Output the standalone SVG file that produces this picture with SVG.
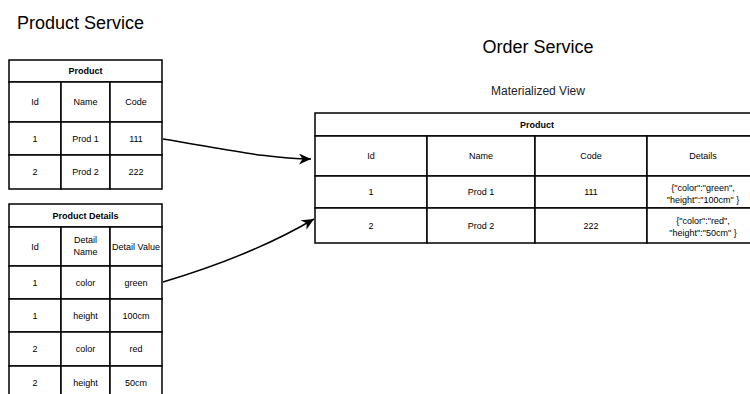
<svg xmlns="http://www.w3.org/2000/svg" width="750" height="394" viewBox="0 0 750 394">
<defs>
<style>
text{font-family:"Liberation Sans",Arial,sans-serif;fill:#000;text-anchor:middle}
.cell{fill:#fff;stroke:#000;stroke-width:1.5}
.t{font-size:9px}
.b{font-size:9px;font-weight:bold}
.h{font-size:18px}
.conn{fill:none;stroke:#000;stroke-width:1.5}
</style>
<marker id="arr" markerUnits="userSpaceOnUse" markerWidth="16" markerHeight="14" refX="12" refY="5.5" orient="auto">
<path d="M0,0 L12,5.5 L0,11 L3.5,5.5 z" fill="#000"/>
</marker>
</defs>
<rect width="750" height="394" fill="#fff"/>
<g id="title-product-service"><text class="h" x="17" y="29" style="text-anchor:start">Product Service</text></g>
<g id="title-order-service"><text class="h" x="538" y="53">Order Service</text></g>
<g id="label-materialized-view"><text x="538" y="95" style="font-size:12px;fill:#222">Materialized View</text></g>

<g id="product-table">
<rect class="cell" x="9" y="60" width="153" height="22"/>
<rect class="cell" x="9" y="82" width="52" height="40"/>
<rect class="cell" x="61" y="82" width="49" height="40"/>
<rect class="cell" x="110" y="82" width="52" height="40"/>
<rect class="cell" x="9" y="122" width="52" height="33"/>
<rect class="cell" x="61" y="122" width="49" height="33"/>
<rect class="cell" x="110" y="122" width="52" height="33"/>
<rect class="cell" x="9" y="155" width="52" height="34"/>
<rect class="cell" x="61" y="155" width="49" height="34"/>
<rect class="cell" x="110" y="155" width="52" height="34"/>
<text class="b" x="85.5" y="74">Product</text>
<text class="t" x="35" y="105">Id</text>
<text class="t" x="85.5" y="105">Name</text>
<text class="t" x="136" y="105">Code</text>
<text class="t" x="35" y="142">1</text>
<text class="t" x="85.5" y="142">Prod 1</text>
<text class="t" x="136" y="142">111</text>
<text class="t" x="35" y="175">2</text>
<text class="t" x="85.5" y="175">Prod 2</text>
<text class="t" x="136" y="175">222</text>
</g>

<g id="product-details-table">
<rect class="cell" x="9" y="204" width="153" height="23"/>
<rect class="cell" x="9" y="227" width="52" height="39"/>
<rect class="cell" x="61" y="227" width="49" height="39"/>
<rect class="cell" x="110" y="227" width="52" height="39"/>
<rect class="cell" x="9" y="266" width="52" height="33"/>
<rect class="cell" x="61" y="266" width="49" height="33"/>
<rect class="cell" x="110" y="266" width="52" height="33"/>
<rect class="cell" x="9" y="299" width="52" height="33"/>
<rect class="cell" x="61" y="299" width="49" height="33"/>
<rect class="cell" x="110" y="299" width="52" height="33"/>
<rect class="cell" x="9" y="332" width="52" height="34"/>
<rect class="cell" x="61" y="332" width="49" height="34"/>
<rect class="cell" x="110" y="332" width="52" height="34"/>
<rect class="cell" x="9" y="366" width="52" height="34"/>
<rect class="cell" x="61" y="366" width="49" height="34"/>
<rect class="cell" x="110" y="366" width="52" height="34"/>
<text class="b" x="85.5" y="218.5">Product Details</text>
<text class="t" x="35" y="249.5">Id</text>
<text class="t" x="85.5" y="243">Detail</text>
<text class="t" x="85.5" y="255">Name</text>
<text class="t" x="136" y="249.5">Detail Value</text>
<text class="t" x="35" y="285.5">1</text>
<text class="t" x="85.5" y="285.5">color</text>
<text class="t" x="136" y="285.5">green</text>
<text class="t" x="35" y="318.5">1</text>
<text class="t" x="85.5" y="318.5">height</text>
<text class="t" x="136" y="318.5">100cm</text>
<text class="t" x="35" y="352">2</text>
<text class="t" x="85.5" y="352">color</text>
<text class="t" x="136" y="352">red</text>
<text class="t" x="35" y="386">2</text>
<text class="t" x="85.5" y="386">height</text>
<text class="t" x="136" y="386">50cm</text>
</g>

<g id="order-product-table">
<rect class="cell" x="315" y="113" width="444" height="23"/>
<rect class="cell" x="315" y="136" width="112" height="40"/>
<rect class="cell" x="427" y="136" width="108" height="40"/>
<rect class="cell" x="535" y="136" width="112" height="40"/>
<rect class="cell" x="647" y="136" width="112" height="40"/>
<rect class="cell" x="315" y="176" width="112" height="32"/>
<rect class="cell" x="427" y="176" width="108" height="32"/>
<rect class="cell" x="535" y="176" width="112" height="32"/>
<rect class="cell" x="647" y="176" width="112" height="32"/>
<rect class="cell" x="315" y="208" width="112" height="35"/>
<rect class="cell" x="427" y="208" width="108" height="35"/>
<rect class="cell" x="535" y="208" width="112" height="35"/>
<rect class="cell" x="647" y="208" width="112" height="35"/>
<text class="b" x="537" y="128">Product</text>
<text class="t" x="371" y="159">Id</text>
<text class="t" x="481" y="159">Name</text>
<text class="t" x="591" y="159">Code</text>
<text class="t" x="703" y="159">Details</text>
<text class="t" x="371" y="195">1</text>
<text class="t" x="481" y="195">Prod 1</text>
<text class="t" x="591" y="195">111</text>
<text class="t" x="703" y="191">{"color":"green",</text>
<text class="t" x="703" y="203">"height":"100cm" }</text>
<text class="t" x="371" y="228.5">2</text>
<text class="t" x="481" y="228.5">Prod 2</text>
<text class="t" x="591" y="228.5">222</text>
<text class="t" x="703" y="224">{"color":"red",</text>
<text class="t" x="703" y="236">"height":"50cm" }</text>
</g>

<g id="connectors">
<path class="conn" d="M163,139 C230,150 270,159 311,159" marker-end="url(#arr)"/>
<path class="conn" d="M163,282 C220,265 270,245 314,219" marker-end="url(#arr)"/>
</g>
</svg>
